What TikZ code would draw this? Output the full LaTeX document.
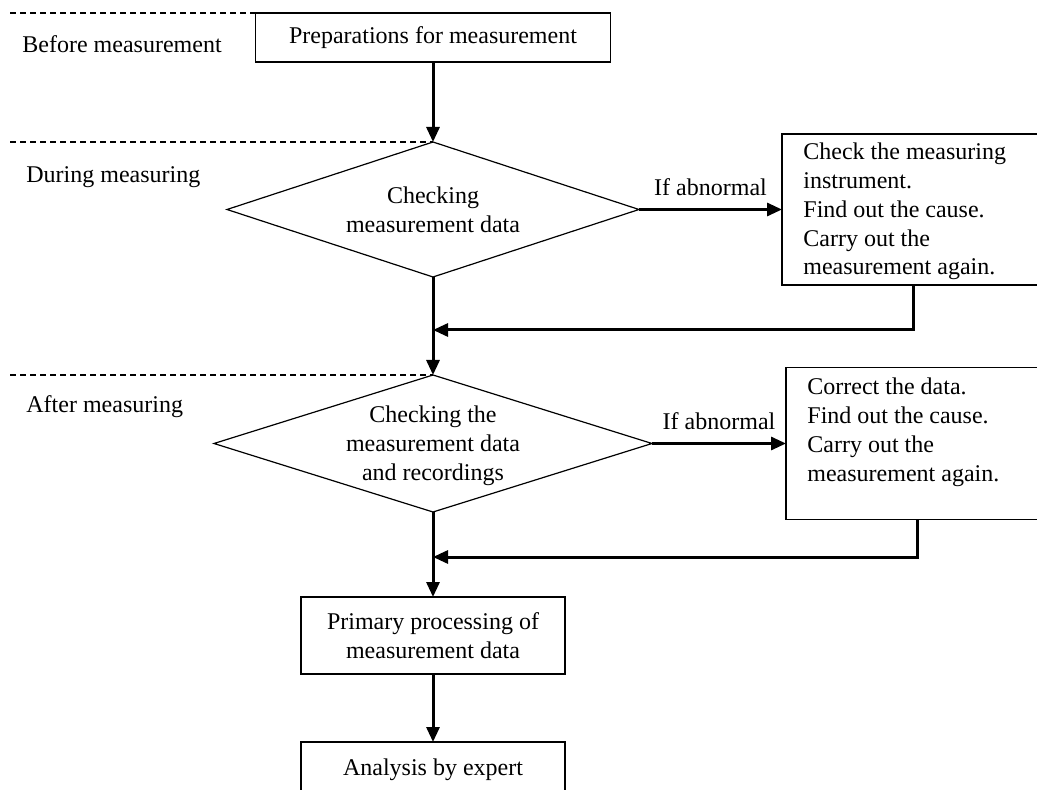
\documentclass[tikz,border=0pt]{standalone}
\usepackage{fontspec}
\setmainfont{Liberation Serif}
\usetikzlibrary{arrows.meta,shapes.geometric}
\begin{document}
\begin{tikzpicture}[x=0.5pt,y=-0.5pt,
  font=\fontsize{12}{14.4}\selectfont,
  box/.style={draw, line width=0.6pt, rectangle, inner sep=0pt, outer sep=0pt, align=center},
  dec/.style={draw, line width=0.6pt, diamond, inner sep=0pt, outer sep=0pt},
  arr/.style={line width=1.5pt, -{Triangle[length=7.5pt,width=6.5pt]}},
  sep/.style={line width=0.6pt, dash pattern=on 3pt off 2pt},
  phase/.style={anchor=base west, inner sep=0pt},
  lbl/.style={anchor=base, inner sep=0pt, yshift=7pt},
  txt/.style={inner sep=0pt, align=center},
  fixtxt/.style={inner sep=0pt, align=left, anchor=base west}]
\useasboundingbox (0,0) rectangle (1037,790);
\clip (0,0) rectangle (1037,790);

% phase labels
\node[phase] (ph1) at (22,53) {Before measurement};
\node[phase] (ph2) at (26,183) {During measuring};
\node[phase] (ph3) at (26,413) {After measuring};

% nodes
\node[box, minimum width=177.5pt, minimum height=24.5pt] (prep) at (433,37.5) {Preparations for measurement};
\node[dec, minimum width=206pt, minimum height=67.5pt] (chk1) at (433,209.5) {};
\node[txt] (chk1t) at (433,210) {Checking\\measurement data};
\node[box, minimum width=131.5pt, minimum height=75.5pt] (fix1) at (913.5,209.5) {};
\node[fixtxt] (fix1t) at ([shift={(21,141)}]fix1.north west)
  {Check the measuring\\instrument.\\Find out the cause.\\Carry out the\\measurement again.};
\node[dec, minimum width=219pt, minimum height=68.5pt] (chk2) at (433,443.5) {};
\node[txt] (chk2t) at (433,446) {Checking the\\measurement data\\and recordings};
\node[box, minimum width=131pt, minimum height=76pt] (fix2) at (917,443.5) {};
\node[fixtxt] (fix2t) at ([shift={(21,113.5)}]fix2.north west)
  {Correct the data.\\Find out the cause.\\Carry out the\\measurement again.};
\node[box, minimum width=132pt, minimum height=38.5pt] (prim) at (433,635.5) {Primary processing of\\measurement data};
\node[box, minimum width=132pt, minimum height=28pt] (anal) at (433,770) {Analysis by expert};

% dashed separators
\coordinate (s1) at (10,13);
\coordinate (s1e) at (300,13);
\coordinate (s2) at (10,142);
\coordinate (s3) at (10,375);
\draw[sep] (s1) -- (s1e);
\draw[sep] (s2) -- (chk1.north);
\draw[sep] (s3) -- (chk2.north);

% connectors
\coordinate (j1) at (433,330);
\coordinate (j2) at (433,557);
\draw[arr] (prep.south) -- (chk1.north);
\draw[arr] (chk1.east) -- node[lbl, midway] (ab1) {If abnormal} (fix1.west);
\draw[arr] (fix1.south) |- (j1);
\draw[arr] (chk1.south) -- (chk2.north);
\draw[arr] (chk2.east) -- node[lbl, midway] (ab2) {If abnormal} (fix2.west);
\draw[arr] (fix2.south) |- (j2);
\draw[arr] (chk2.south) -- (prim.north);
\draw[arr] (prim.south) -- (anal.north);
\end{tikzpicture}
\end{document}
